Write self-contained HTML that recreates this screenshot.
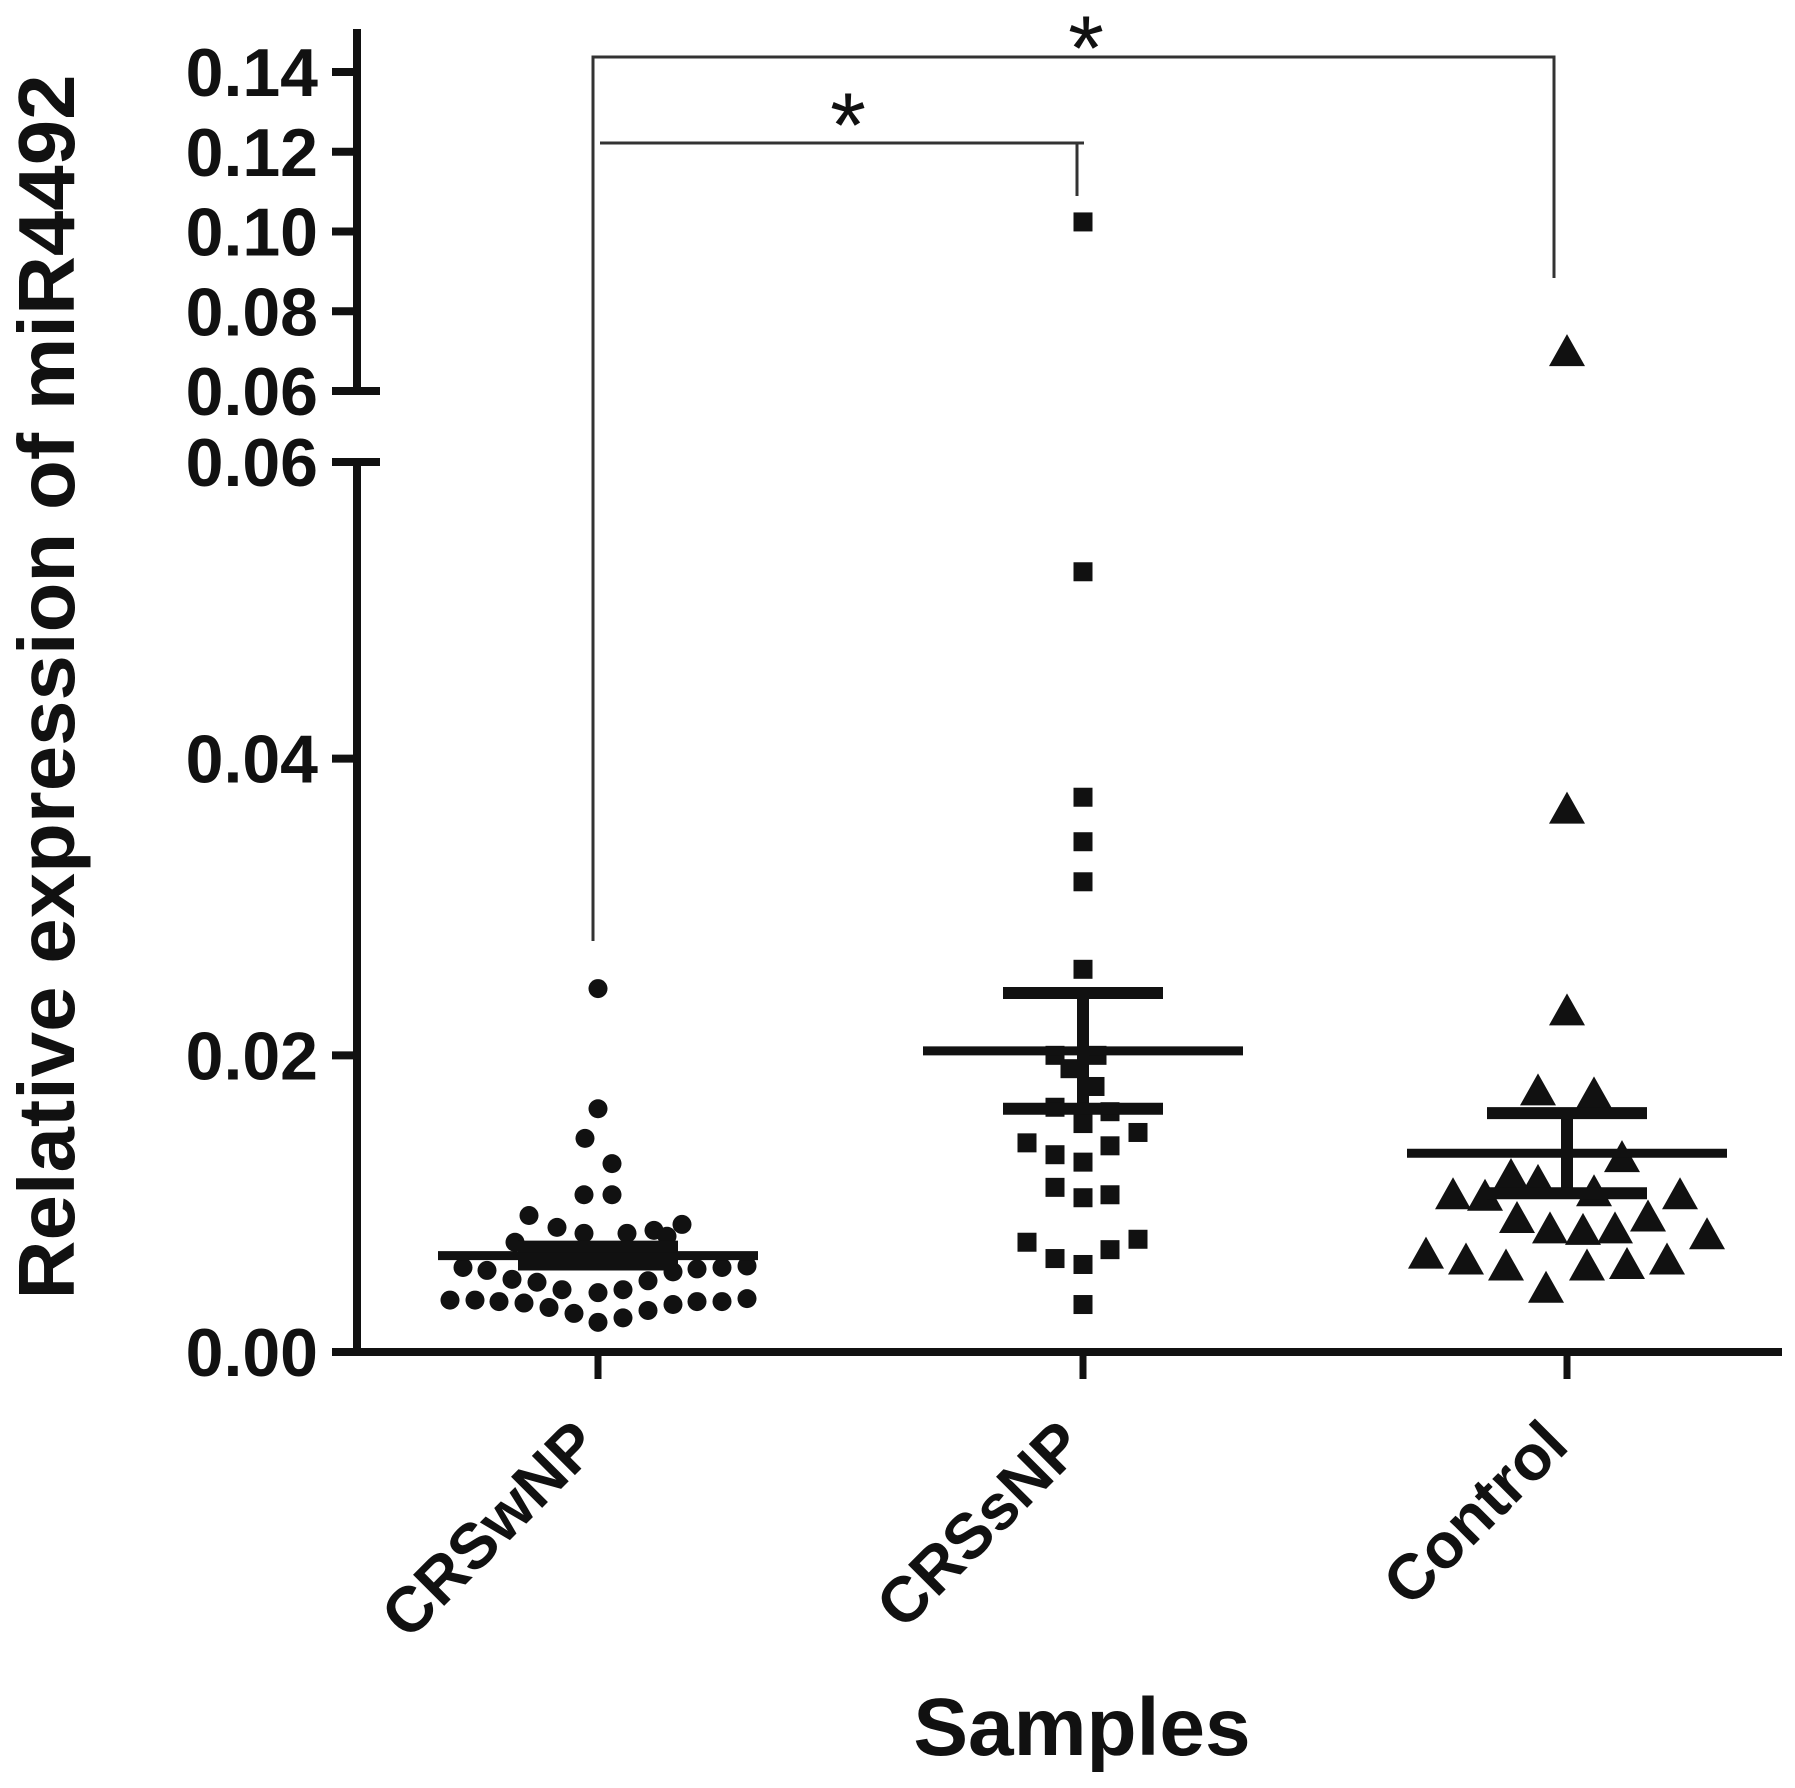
<!DOCTYPE html>
<html><head><meta charset="utf-8"><style>
html,body{margin:0;padding:0;background:#fff;}
svg{display:block;}
text{font-family:"Liberation Sans",Arial,sans-serif;fill:#111;}
</style></head>
<body>
<svg id="chart" width="1795" height="1788" viewBox="0 0 1795 1788" xmlns="http://www.w3.org/2000/svg">
<g id="axes"></g>
<g id="marks"></g>
<g id="stats"></g>
<g id="sig">
  <polyline points="593,941 593,57 1554,57 1554,278" fill="none" stroke="#333" stroke-width="3"/>
  <polyline points="600,143 1077,143 1077,196" fill="none" stroke="#333" stroke-width="3"/>
  <line x1="1070" y1="143" x2="1084" y2="143" stroke="#333" stroke-width="3"/>
  <text x="1086" y="80" font-size="92" text-anchor="middle">*</text>
  <text x="848" y="157" font-size="92" text-anchor="middle">*</text>
</g>
<text transform="translate(74,687) rotate(-90)" font-size="80" font-weight="bold" text-anchor="middle" textLength="1225" lengthAdjust="spacingAndGlyphs">Relative expression of miR4492</text>
<text x="1082" y="1755" font-size="82" font-weight="bold" text-anchor="middle">Samples</text>
</svg>
<script>
// ---- data ----
const categories = ["CRSwNP", "CRSsNP", "Control"];
const lowerTicks = [0.00, 0.02, 0.04, 0.06];
const lowerTickLabels = ["0.00", "0.02", "0.04", "0.06"];
const upperTicks = [0.06, 0.08, 0.10, 0.12, 0.14];
const upperTickLabels = ["0.06", "0.08", "0.10", "0.12", "0.14"];

const wnpValues = [0.0245,0.0164,0.0144,0.0127,0.0106,0.0106,0.0092,0.0084,0.0086,0.0080,0.0080,0.0082,0.0074,0.0078,
  0.0067,0.0065,0.0063,0.0065,0.0067,
  0.0057,0.0055,0.0049,0.0047,0.0042,0.0040,0.0042,0.0048,0.0054,0.0056,0.0057,0.0058,
  0.0035,0.0035,0.0034,0.0033,0.0030,0.0026,0.0020,0.0023,0.0028,0.0032,0.0034,0.0034,0.0036];
const wnpJitter = [0,0,-13,14,-14,14,-69,-41,84,-14,29,56,-83,69,
  -50,-25,0,25,50,
  -135,-111,-86,-61,-36,0,25,50,75,99,124,149,
  -148,-123,-99,-74,-49,-24,0,25,50,75,99,124,149];

const snpValues = [0.1024,0.0526,0.0374,0.0344,0.0317,0.0258,0.0200,0.0200,0.0191,0.0179,0.0165,0.0162,0.0154,0.0148,
  0.0141,0.0139,0.0133,0.0128,0.0111,0.0104,0.0106,0.0074,0.0076,0.0063,0.0069,0.0059,0.0032];
const snpJitter = [0,0,0,0,0,0,-28,14,-13,12,-28,27,0,55,-56,27,-28,0,-28,0,27,-56,55,-28,27,0,0];

const ctlValues = [0.0695,0.0365,0.0229,0.0175,0.0173,0.0130,0.0118,0.0114,0.0107,0.0105,0.0104,0.0105,0.0090,0.0089,
  0.0082,0.0081,0.0082,0.0078,0.0065,0.0061,0.0057,0.0057,0.0058,0.0061,0.0042];
const ctlJitter = [0,0,0,-29,27,55,-56,-29,27,-114,-82,113,81,-50,-17,16,48,140,-141,-101,-61,20,60,100,-21];

const means = [0.0065, 0.0203, 0.0134];
const sems = [0.0006, 0.0039, 0.0027];

// ---- scales ----
const X0 = 357, Y0 = 1352, LOW_TOP = 462, UP_BOT = 391, UP_TOP = 72;
const catX = [598, 1083, 1567];
function yScale(v){
  if (v <= 0.06) return Y0 - (v / 0.06) * (Y0 - LOW_TOP);
  return UP_BOT - ((v - 0.06) / 0.08) * (UP_BOT - UP_TOP);
}
const NS = "http://www.w3.org/2000/svg";
function mk(tag, attrs, parent){
  const e = document.createElementNS(NS, tag);
  for (const k in attrs) e.setAttribute(k, attrs[k]);
  parent.appendChild(e);
  return e;
}
const axes = document.getElementById("axes");
const marks = document.getElementById("marks");
const stats = document.getElementById("stats");

let a = mk("line", {x1:X0, y1:29, x2:X0, y2:UP_BOT, stroke:"#111", "stroke-width":8}, axes);


a = mk("line", {x1:X0, y1:LOW_TOP, x2:X0, y2:Y0+4, stroke:"#111", "stroke-width":8}, axes);


a = mk("line", {x1:X0-4, y1:Y0, x2:1782, y2:Y0, stroke:"#111", "stroke-width":8}, axes);


a = mk("line", {x1:334, y1:UP_BOT, x2:380, y2:UP_BOT, stroke:"#111", "stroke-width":8}, axes);


a = mk("line", {x1:334, y1:LOW_TOP, x2:380, y2:LOW_TOP, stroke:"#111", "stroke-width":8}, axes);



function tick(v, label, seg){
  const y = seg === "up" ? UP_BOT - ((v - 0.06) / 0.08) * (UP_BOT - UP_TOP) : yScale(v);
  const t = mk("line", {x1:332, y1:y, x2:X0, y2:y, stroke:"#111", "stroke-width":8}, axes);
  
  
  const tx = mk("text", {x:318, y:y+24, "font-size":68, "font-weight":"bold", "text-anchor":"end"}, axes);
  tx.textContent = label;
  
  
}
lowerTicks.forEach((v,i)=>tick(v, lowerTickLabels[i], "low"));
upperTicks.forEach((v,i)=>tick(v, upperTickLabels[i], "up"));

categories.forEach((c,i)=>{
  const x = catX[i];
  const t = mk("line", {x1:x, y1:Y0, x2:x, y2:1379, stroke:"#111", "stroke-width":7}, axes);
  
  
  const tx = mk("text", {transform:`translate(${x+4},1448) rotate(-45)`, "font-size":64, "font-weight":"bold", "text-anchor":"end"}, axes);
  tx.textContent = c;
  
  
});

wnpValues.forEach((v,i)=>{
  const p = mk("circle", {cx:catX[0]+wnpJitter[i], cy:yScale(v), r:9.5, fill:"#111"}, marks);
  
  
});
snpValues.forEach((v,i)=>{
  const x = catX[1]+snpJitter[i], y = yScale(v);
  const p = mk("rect", {x:x-9.5, y:y-9.5, width:19, height:19, fill:"#111"}, marks);
  
  
});
ctlValues.forEach((v,i)=>{
  const x = catX[2]+ctlJitter[i], y = yScale(v);
  const p = mk("polygon", {points:`${x},${y-19} ${x-18},${y+13} ${x+18},${y+13}`, fill:"#111"}, marks);
  
  
});

means.forEach((m,i)=>{
  const x = catX[i], ym = yScale(m), yt = yScale(m + sems[i]), yb = yScale(m - sems[i]);
  let e = mk("line", {x1:x-160, y1:ym, x2:x+160, y2:ym, stroke:"#111", "stroke-width":9}, stats);
  
  
  e = mk("line", {x1:x, y1:yt, x2:x, y2:yb, stroke:"#111", "stroke-width":12}, stats);
  
  
  e = mk("line", {x1:x-80, y1:yt, x2:x+80, y2:yt, stroke:"#111", "stroke-width":12}, stats);
  
  
  e = mk("line", {x1:x-80, y1:yb, x2:x+80, y2:yb, stroke:"#111", "stroke-width":12}, stats);
  
  
});
</script>
</body></html>
